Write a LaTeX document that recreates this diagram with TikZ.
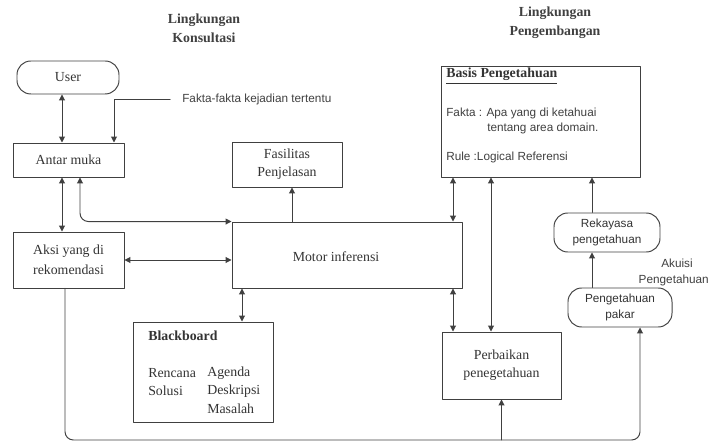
\documentclass[tikz,border=0pt]{standalone}
\usepackage{fontspec}
\setmainfont{Liberation Serif}
\setsansfont{Liberation Sans}
\usetikzlibrary{arrows.meta,calc}

\begin{document}
\begin{tikzpicture}[
		x=0.254mm,
		y=-0.254mm,
		line cap=round,
		line join=round,
		>={Triangle[length=4.2pt,width=4.2pt]},
		box/.style={draw=black!75, line width=0.7pt, inner sep=0pt, align=center,
			text=black!80, font=\fontsize{10}{13}\selectfont},
		pill/.style={box, rounded corners=10pt, font=\sffamily\fontsize{8.5}{11}\selectfont},
		link/.style={draw=black!75, line width=0.7pt},
		title/.style={align=center, text=black!75, font=\bfseries\fontsize{10}{13.7}\selectfont},
		txt/.style={inner sep=0pt, anchor=west, text=black!80, font=\fontsize{10}{12}\selectfont},
		stxt/.style={inner sep=0pt, anchor=west, text=black!75, font=\sffamily\fontsize{8.5}{10}\selectfont}
		]
		
		\useasboundingbox (0,0) rectangle (711,443);
		
		%------------------------------------------------------------------
		% Coordinates
		%------------------------------------------------------------------
		\coordinate (colA)  at ( 62,   0);
		\coordinate (colB)  at (114,   0);
		\coordinate (colD)  at ( 80,   0);
		\coordinate (colE)  at (292,   0);
		\coordinate (colF)  at (242,   0);
		\coordinate (colG)  at (453,   0);
		\coordinate (colH)  at (491,   0);
		\coordinate (colI)  at (592,   0);
		\coordinate (colJ)  at ( 65,   0);
		\coordinate (colK)  at (640,   0);
		\coordinate (base)  at (  0, 440);
		
		%------------------------------------------------------------------
		% Titles
		%------------------------------------------------------------------
		\node[title] (konsul) at (204, 28) {Lingkungan\\Konsultasi};
		\node[title] (pengem) at (555, 23) {Lingkungan\\Pengembangan};
		
		%------------------------------------------------------------------
		% Consultation side
		%------------------------------------------------------------------
		\node[box, rounded corners=10pt, minimum width=25.91mm, minimum height=8.38mm] (user) at (68, 77.5) {User};
		\node[box, minimum width=28.19mm, minimum height=8.64mm] (antar) at (68.5, 160) {Antar muka};
		\node[box, minimum width=27.94mm, minimum height=11.43mm] (fasil) at (287, 164.5) {Fasilitas\\Penjelasan};
		\node[box, minimum width=28.19mm, minimum height=14.22mm, font=\fontsize{10}{14.4}\selectfont] (aksi) at (68.5, 260) {Aksi yang di\\rekomendasi};
		\node[box, minimum width=58.42mm, minimum height=16.76mm] (motor) at (347, 255) {};
		\node[txt, anchor=center] (motorlbl) at (336, 257) {Motor inferensi};
		
		\node[stxt] (fakta) at (182, 99) {Fakta-fakta kejadian tertentu};
		
		% Blackboard
		\node[box, minimum width=35.56mm, minimum height=25.4mm] (black) at (203, 372) {};
		\node[txt, font=\bfseries\fontsize{10}{12}\selectfont] (bbtitle) at (148, 336) {Blackboard};
		\node[txt] (bbrenc) at (148, 373) {Rencana};
		\node[txt] (bbsolu) at (148, 391) {Solusi};
		\node[txt] (bbagen) at (207, 373) {Agenda};
		\node[txt] (bbdesk) at (207, 391) {Deskripsi};
		\node[txt] (bbmasa) at (207, 409) {Masalah};
		
		%------------------------------------------------------------------
		% Development side
		%------------------------------------------------------------------
		\node[box, minimum width=50.55mm, minimum height=28.19mm] (basis) at (540.5, 121.5) {};
		\node[txt, font=\bfseries\fontsize{10}{12}\selectfont] (bptitle) at (446, 76) {\underline{Basis Pengetahuan}};
		\node[stxt] (bpfakta) at (446, 113) {Fakta : Apa yang di ketahuai};
		\node[stxt] (bpdomain) at (487, 128) {tentang area domain.};
		\node[stxt] (bprule) at (446, 157) {Rule :Logical Referensi};
		
		\node[box, minimum width=30.23mm, minimum height=17.02mm] (perb) at (501.5, 365.5) {Perbaikan\\penegetahuan};
		\node[pill, minimum width=26.92mm, minimum height=9.91mm] (rekay) at (607, 232.5) {Rekayasa\\pengetahuan};
		\node[pill, minimum width=26.42mm, minimum height=9.91mm] (pakar) at (620, 307.5) {Pengetahuan\\pakar};
		
		\node[stxt, anchor=center] (akuisi) at (677, 263) {Akuisi};
		\node[stxt, anchor=east] (akpeng) at (709, 280) {Pengetahuan};
		
		%------------------------------------------------------------------
		% Connectors
		%------------------------------------------------------------------
		\draw[link, <->] (user.south -| colA) -- (antar.north -| colA);
		\draw[link, ->] ([xshift=-3mm]fakta.west) -| (antar.north -| colB);
		\draw[link, <->] (antar.south -| colA) -- (aksi.north -| colA);
		\draw[link, <->, rounded corners=6pt] (antar.south -| colD) |- (motor.north west);
		\draw[link, ->] (motor.north -| colE) -- (fasil.south -| colE);
		\draw[link, <->] (aksi.east) -- (aksi.east -| motor.west);
		\draw[link, <->] (motor.south -| colF) -- (black.north -| colF);
		
		\draw[link, <->] (basis.south -| colG) -- (motor.north -| colG);
		\draw[link, <->] (motor.south -| colG) -- (perb.north -| colG);
		\draw[link, <->] (basis.south -| colH) -- (perb.north -| colH);
		\draw[link, ->] (rekay.north -| colI) -- (basis.south -| colI);
		\draw[link, ->] (pakar.north -| colI) -- (rekay.south -| colI);
		
		% Feedback loop along the bottom
		\draw[link, ->, rounded corners=6pt] (aksi.south -| colJ) |- (base -| colK) -- (pakar.south -| colK);
		\draw[link, ->] (base -| perb.south) -- (perb.south);
		
	\end{tikzpicture}
\end{document}
